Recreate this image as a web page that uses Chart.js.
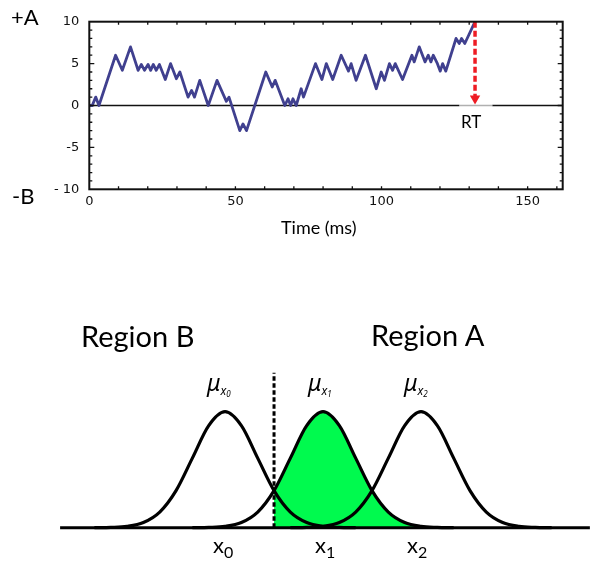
<!DOCTYPE html>
<html>
<head>
<meta charset="UTF-8">
<title>Random walk to bound / decision regions</title>
<script src="https://cdn.jsdelivr.net/npm/chart.js"></script>
<style>
  body { margin: 0; background: #fff; }
  #page { position: relative; width: 600px; height: 571px; overflow: hidden; font-family: Lato, "Open Sans", sans-serif; color: #000; }
  canvas { position: absolute; left: 0; }
  .lbl { position: absolute; white-space: nowrap; line-height: 1; }
  .mu { position: absolute; white-space: nowrap; line-height: 1; font-family: "Noto Sans", sans-serif; font-style: italic; font-size: 23px; }
  .mu sub { font-size: 12px; vertical-align: -4px; }
  .mu sub sub { font-size: 8px; vertical-align: -2px; }
  .xl { position: absolute; white-space: nowrap; line-height: 1; font-size: 22px; }
  .xl sub { font-size: 16px; vertical-align: -5px; }
</style>
</head>
<body>
<div id="page">
  <canvas id="walkChart" width="600" height="250" style="top:0"></canvas>
  <canvas id="regionChart" width="600" height="281" style="top:290px"></canvas>

  <div class="lbl" style="left:11px;top:6px;font-size:22px">+A</div>
  <div class="lbl" style="left:12px;top:185px;font-size:22px">-B</div>
  <div class="lbl" style="left:281px;top:218px;font-size:18px">Time (ms)</div>
  <div class="lbl" style="left:461px;top:113px;font-size:17px">RT</div>

  <div class="lbl" style="left:81px;top:321px;font-size:29px">Region B</div>
  <div class="lbl" style="left:371px;top:320px;font-size:29px">Region A</div>

  <div class="mu" style="left:207px;top:371px">μ<sub>x<sub>0</sub></sub></div>
  <div class="mu" style="left:308px;top:371px">μ<sub>x<sub>1</sub></sub></div>
  <div class="mu" style="left:404px;top:371px">μ<sub>x<sub>2</sub></sub></div>

  <div class="xl" style="left:213px;top:534px">x<sub>0</sub></div>
  <div class="xl" style="left:315px;top:534px">x<sub>1</sub></div>
  <div class="xl" style="left:407px;top:534px">x<sub>2</sub></div>
</div>

<script>
// ---- top panel: evidence random walk ----
const walkTimes = [0, 1, 2.2, 3.3, 9, 11.3, 14.1, 16.7, 17.8, 18.9, 20.1, 21, 21.9, 22.9, 24,
  26, 27.8, 29.8, 31, 33.8, 35, 36, 37.8, 40.7, 43.7, 46.9, 47.8, 51.5, 52.6, 53.8,
  60.4, 62.6, 63.6, 66.9, 68, 68.9, 69.7, 70.8, 72.5, 73.3, 77.4, 79.6, 81.1, 83.3,
  86.2, 88.7, 89.6, 91.3, 94.5, 98.2, 99.9, 101, 102.7, 103.8, 104.7, 107.2, 110.4,
  111.2, 112.9, 114.9, 116, 116.9, 117.7, 119, 120.1, 120.9, 122, 125.5, 126.6, 127.4,
  128.5, 132];
const walkValues = [0, 0, 1, 0, 6, 4.2, 7, 4.2, 4.9, 4.2, 4.9, 4.2, 4.9, 4.2, 4.9,
  3.1, 5, 3.2, 4, 1, 1.8, 1, 3, 0, 3, 0.5, 1, -3, -2.2, -3,
  4, 2.2, 3, 0, 0.8, 0, 0.8, 0, 2, 1, 5, 3.1, 5, 3.1,
  6, 4.1, 5, 3, 6, 2, 4, 3, 5, 4.2, 5, 3.1, 6,
  5.2, 7, 5.2, 6, 5.2, 6, 5.1, 4.1, 5, 4.1, 8, 7.4, 8,
  7.4, 10];

const timeTicks = [0, 50, 100, 150];
const valueTicks = [-10, -5, 0, 5, 10];
const valueTickLabels = ['- 10', '-5', '0', '5', '10'];
const timeMax = 162;
const rtTime = 132;
const boundA = 10;
const zeroGap = [126.6, 137.9];

// frame round the plot with small inward ticks
const framePlugin = {
  id: 'frame',
  afterDraw(chart) {
    const { ctx, chartArea: a, scales } = chart;
    const x = scales.x, y = scales.y;
    ctx.save();
    ctx.strokeStyle = '#111';
    ctx.lineWidth = 2;
    ctx.strokeRect(a.left, a.top, a.right - a.left, a.bottom - a.top);
    ctx.lineWidth = 1.3;
    ctx.beginPath();
    for (let t = 10; t < timeMax; t += 10) {
      const px = x.getPixelForValue(t);
      ctx.moveTo(px, a.bottom); ctx.lineTo(px, a.bottom - 3);
      ctx.moveTo(px, a.top); ctx.lineTo(px, a.top + 3);
    }
    for (let v = -9; v < 10; v++) {
      const py = y.getPixelForValue(v);
      const len = v % 5 === 0 ? 5 : 3;
      ctx.moveTo(a.left, py); ctx.lineTo(a.left + len, py);
      ctx.moveTo(a.right, py); ctx.lineTo(a.right - len, py);
    }
    ctx.stroke();
    ctx.restore();
  }
};

new Chart(document.getElementById('walkChart'), {
  type: 'line',
  data: {
    datasets: [
      {
        data: [{ x: 0, y: 0 }, { x: zeroGap[0], y: 0 }],
        borderColor: '#111', borderWidth: 1.5, pointRadius: 0, order: 5
      },
      {
        data: [{ x: zeroGap[0], y: 0 }, { x: zeroGap[1], y: 0 }],
        borderColor: '#b0b0b0', borderWidth: 1.5, pointRadius: 0, order: 5
      },
      {
        data: [{ x: zeroGap[1], y: 0 }, { x: timeMax, y: 0 }],
        borderColor: '#111', borderWidth: 1.5, pointRadius: 0, order: 5
      },
      {
        data: walkTimes.map((t, i) => ({ x: t, y: walkValues[i] })),
        borderColor: '#40408f', borderWidth: 2.8, pointRadius: 0,
        borderJoinStyle: 'round', tension: 0, order: 2
      },
      {
        data: [{ x: rtTime, y: boundA }, { x: rtTime, y: 0.85 }],
        borderColor: '#ee1c24', borderWidth: 3.5, borderDash: [6, 3],
        pointRadius: [0, 6], pointStyle: 'triangle', rotation: 180,
        pointBackgroundColor: '#ee1c24', pointBorderWidth: 0, order: 1
      }
    ]
  },
  options: {
    responsive: false,
    animation: false,
    layout: { padding: { top: 21.7, right: 37.3, left: 0, bottom: 0 } },
    plugins: { legend: { display: false }, tooltip: { enabled: false } },
    scales: {
      x: {
        type: 'linear', min: 0, max: timeMax,
        grid: { display: false, drawTicks: false },
        border: { display: false },
        afterFit: s => { s.height = 60.7; },
        afterBuildTicks: s => { s.ticks = timeTicks.map(v => ({ value: v })); },
        ticks: { padding: 5, color: '#111', font: { family: 'DejaVu Sans', size: 13 } }
      },
      y: {
        min: -10, max: 10,
        grid: { display: false, drawTicks: false },
        border: { display: false },
        afterFit: s => { s.width = 89.3; },
        afterBuildTicks: s => { s.ticks = valueTicks.map(v => ({ value: v })); },
        ticks: {
          padding: 10, color: '#111', font: { family: 'DejaVu Sans', size: 13 },
          callback: v => valueTickLabels[valueTicks.indexOf(v)]
        }
      }
    }
  },
  plugins: [framePlugin]
});

// ---- bottom panel: three stimulus distributions ----
const bellOffsets = [-4, -3.5, -3, -2.5, -2, -1.5, -1, -0.5, 0, 0.5, 1, 1.5, 2, 2.5, 3, 3.5, 4];
const bellHeights = [0, 0.003, 0.012, 0.045, 0.135, 0.32, 0.6, 0.88, 1, 0.88, 0.6, 0.32, 0.135, 0.045, 0.012, 0.003, 0];
const centers = [0, 3, 6];
const dividerX = 1.5;
const dividerTop = 1.336;
const baselineRange = [-5.05, 11.17];

const bell = c => bellOffsets.map((o, i) => ({ x: c + o, y: bellHeights[i] }));

const curveSets = centers.map(c => ({
  data: bell(c),
  borderColor: '#000', borderWidth: 3.2, pointRadius: 0,
  cubicInterpolationMode: 'monotone', order: 1
}));

new Chart(document.getElementById('regionChart'), {
  type: 'line',
  data: {
    datasets: [
      {
        data: bell(centers[1]).filter(p => p.x >= dividerX),
        borderWidth: 0, pointRadius: 0, fill: 'origin',
        backgroundColor: '#00fa4e', cubicInterpolationMode: 'monotone', order: 10
      },
      {
        data: [{ x: baselineRange[0], y: 0 }, { x: baselineRange[1], y: 0 }],
        borderColor: '#000', borderWidth: 3, pointRadius: 0, order: 3
      },
      ...curveSets,
      {
        data: [{ x: dividerX, y: 0 }, { x: dividerX, y: dividerTop }],
        borderColor: '#000', borderWidth: 3, borderDash: [4.5, 2.5], pointRadius: 0, order: 0
      }
    ]
  },
  options: {
    responsive: false,
    animation: false,
    layout: { padding: 0 },
    plugins: { legend: { display: false }, tooltip: { enabled: false } },
    scales: {
      x: { type: 'linear', min: -6.89, max: 11.48, display: false },
      y: { min: -0.373, max: 2.049, display: false }
    }
  }
});
</script>
</body>
</html>
